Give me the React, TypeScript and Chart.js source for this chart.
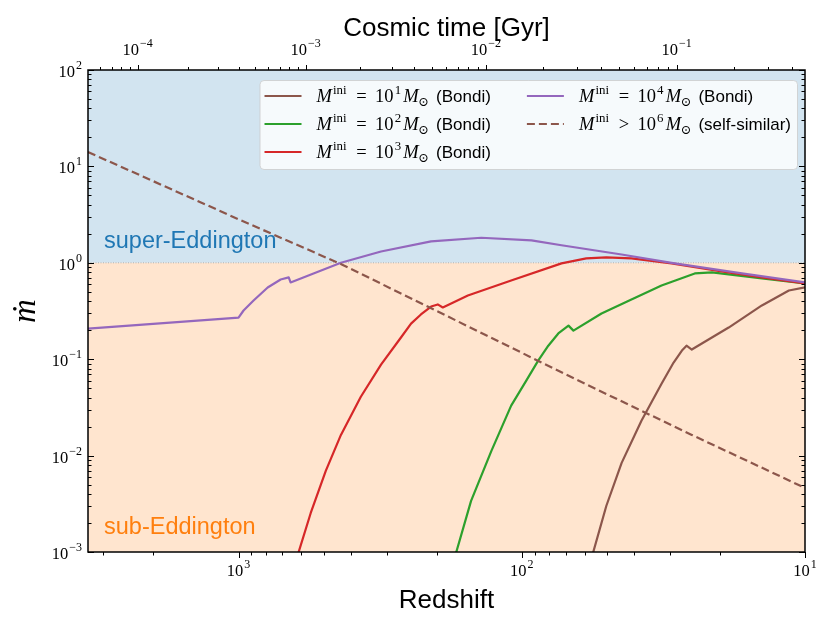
import { useEffect, useRef } from 'react';
import { Chart, registerables } from 'chart.js';

Chart.register(...registerables);

// ---------------- data ----------------
const Z_MIN = 10;
const Z_MAX = 3400;
const MDOT_MIN = 1e-3;
const MDOT_MAX = 1e2;
const EDDINGTON_MDOT = 1;

// M_ini = 10 Msun (Bondi)
const Z_M1 = [56.8, 50.3, 44.4, 37.8, 32.1, 29.1, 27.2, 26.2, 25.1, 18.6, 14.2, 11.4, 10];
const MDOT_M1 = [0.00085, 0.003, 0.00841, 0.023, 0.0557, 0.0923, 0.123, 0.138, 0.126, 0.213, 0.361, 0.516, 0.555];

// M_ini = 100 Msun (Bondi)
const Z_M2 = [173, 151, 128, 109, 96.4, 87.5, 80.6, 74.3, 68.4, 65.7, 52.3, 41.0, 32.1, 24.5, 21.3, 14.2, 10];
const MDOT_M2 = [0.00085, 0.00339, 0.0112, 0.033, 0.06, 0.0967, 0.138, 0.185, 0.223, 0.198, 0.298, 0.417, 0.582, 0.776, 0.795, 0.689, 0.611];

// M_ini = 1000 Msun (Bondi)
const Z_M3 = [624, 556, 492, 435, 370, 314, 267, 246, 227, 209, 198, 190, 155, 109, 72.4, 59.2, 50.3, 41.0, 29.6, 19.7, 14.2, 10];
const MDOT_M3 = [0.00085, 0.00254, 0.00695, 0.0164, 0.0408, 0.0879, 0.168, 0.234, 0.291, 0.352, 0.37, 0.344, 0.458, 0.656, 0.986, 1.11, 1.14, 1.11, 0.986, 0.815, 0.705, 0.611];

// M_ini = 10^4 Msun (Bondi)
const Z_M4 = [3400, 1000, 960, 885, 789, 710, 665, 655, 435, 314, 209, 139, 92.4, 72.4, 44.4, 29.6, 16.7, 10];
const MDOT_M4 = [0.208, 0.27, 0.32, 0.406, 0.555, 0.671, 0.705, 0.625, 1.0, 1.31, 1.67, 1.82, 1.71, 1.52, 1.22, 1.0, 0.776, 0.625];

// M_ini > 10^6 Msun (self-similar)
const Z_SELF = [3400, 1000, 432, 267, 63.1, 25.1, 10];
const MDOT_SELF = [14.1, 2.83, 0.962, 0.481, 0.06, 0.0164, 0.00462];

const LABELS = [
  '$M^{ini} = 10^{1} M_{⊙}$ (Bondi)',
  '$M^{ini} = 10^{2} M_{⊙}$ (Bondi)',
  '$M^{ini} = 10^{3} M_{⊙}$ (Bondi)',
  '$M^{ini} = 10^{4} M_{⊙}$ (Bondi)',
  '$M^{ini} > 10^{6} M_{⊙}$ (self-similar)',
];
const COLORS = ['#8c564b', '#2ca02c', '#d62728', '#9467bd', '#8c564b'];

// top axis: cosmic time ticks (Gyr) and the redshift where each sits
const TOP_TIME_TICKS = [1e-4, 1e-3, 1e-2, 1e-1];
const TOP_TIME_TICK_Z = [2270, 580, 134, 28.4];

const X_TITLE = 'Redshift';
const X2_TITLE = 'Cosmic time [Gyr]';
const Y_TITLE = 'ṁ';
const SUPER_TEXT = 'super-Eddington';
const SUB_TEXT = 'sub-Eddington';

// ---------------- helpers ----------------
const SERIF = '"Liberation Serif", "DejaVu Serif", serif';
const SANS = '"Liberation Sans", "DejaVu Sans", sans-serif';

const SUP: Record<string, string> = {
  '0': '⁰', '1': '¹', '2': '²', '3': '³', '4': '⁴', '5': '⁵', '6': '⁶', '7': '⁷', '8': '⁸', '9': '⁹', '-': '⁻',
};
const UNSUP: Record<string, string> = Object.fromEntries(Object.entries(SUP).map(([k, v]) => [v, k]));

function pow10Label(v: number) {
  const e = Math.round(Math.log10(v));
  return '10' + String(e).split('').map((c) => SUP[c] ?? c).join('');
}

function logTicks(min: number, max: number) {
  const out: any[] = [];
  const e0 = Math.floor(Math.log10(min));
  const e1 = Math.ceil(Math.log10(max));
  for (let e = e0; e <= e1; e++) {
    for (let k = 1; k <= 9; k++) {
      const v = parseFloat((k * Math.pow(10, e)).toPrecision(6));
      if (v >= min * (1 - 1e-9) && v <= max * (1 + 1e-9)) out.push({ value: v, major: k === 1 });
    }
  }
  return out;
}

function zOfTime(t: number) {
  const LT = TOP_TIME_TICKS.map(Math.log10);
  const LZ = TOP_TIME_TICK_Z.map(Math.log10);
  const lt = Math.log10(t);
  let i = 0;
  while (i < LT.length - 2 && lt > LT[i + 1]) i++;
  const lz = LZ[i] + ((lt - LT[i]) * (LZ[i + 1] - LZ[i])) / (LT[i + 1] - LT[i]);
  return Math.pow(10, lz);
}

function topTicks() {
  const out: any[] = [];
  for (let e = -6; e <= 1; e++) {
    for (let k = 1; k <= 9; k++) {
      const t = parseFloat((k * Math.pow(10, e)).toPrecision(6));
      const z = zOfTime(t);
      if (z >= Z_MIN && z <= Z_MAX) out.push({ value: z, major: k === 1, t });
    }
  }
  return out;
}

type Run = { text: string; font: string; dy: number; pre: number; post: number };
function parseRich(s: string, mathSize: number, textSize: number): Run[] {
  const runs: Run[] = [];
  let i = 0;
  let math = false;
  while (i < s.length) {
    const c = s[i];
    if (c === '$') { math = !math; i++; continue; }
    if (!math) {
      let j = i;
      while (j < s.length && s[j] !== '$') j++;
      runs.push({ text: s.slice(i, j), font: `${textSize}px ${SANS}`, dy: 0, pre: 0, post: 0 });
      i = j;
      continue;
    }
    if (c === '^' || c === '_') {
      const close = s.indexOf('}', i);
      const inner = s.slice(i + 2, close);
      const sub = c === '_';
      runs.push({
        text: inner,
        font: `${(mathSize * 0.7).toFixed(1)}px ${SERIF}`,
        dy: sub ? mathSize * 0.2 : -mathSize * 0.42,
        pre: sub ? -mathSize * 0.02 : mathSize * 0.06,
        post: mathSize * 0.12,
      });
      i = close + 1;
      continue;
    }
    if (c === ' ') { i++; continue; }
    if (c === '=' || c === '>') {
      runs.push({ text: c, font: `${mathSize}px ${SERIF}`, dy: 0, pre: mathSize * 0.4, post: mathSize * 0.45 });
      i++;
      continue;
    }
    const italic = /[A-Za-z]/.test(c);
    runs.push({ text: c, font: `${italic ? 'italic ' : ''}${mathSize}px ${SERIF}`, dy: 0, pre: 0, post: 0 });
    i++;
  }
  return runs;
}
function measureRich(ctx: CanvasRenderingContext2D, runs: Run[]) {
  let w = 0;
  for (const r of runs) {
    ctx.font = r.font;
    w += r.pre + ctx.measureText(r.text).width + r.post;
  }
  return w;
}
function drawRich(ctx: CanvasRenderingContext2D, runs: Run[], x: number, y: number) {
  for (const r of runs) {
    ctx.font = r.font;
    x += r.pre;
    ctx.fillText(r.text, x, y + r.dy);
    x += ctx.measureText(r.text).width + r.post;
  }
}

// ---------------- plugins ----------------
const backgroundPlugin = {
  id: 'regions',
  beforeDatasetsDraw(chart: any) {
    const { ctx, chartArea: a, scales } = chart;
    const yE = scales.y.getPixelForValue(EDDINGTON_MDOT);
    ctx.save();
    ctx.fillStyle = 'rgb(210,228,240)';
    ctx.fillRect(a.left, a.top, a.right - a.left, yE - a.top);
    ctx.fillStyle = 'rgb(255,229,207)';
    ctx.fillRect(a.left, yE, a.right - a.left, a.bottom - yE);
    ctx.strokeStyle = 'rgba(140,140,140,0.6)';
    ctx.lineWidth = 1;
    ctx.setLineDash([1, 1.5]);
    ctx.beginPath();
    ctx.moveTo(a.left, yE);
    ctx.lineTo(a.right, yE);
    ctx.stroke();
    ctx.setLineDash([]);
    ctx.font = `23.5px ${SANS}`;
    ctx.textAlign = 'left';
    ctx.textBaseline = 'alphabetic';
    ctx.fillStyle = '#1f77b4';
    ctx.fillText(SUPER_TEXT, a.left + 16, yE - 15);
    ctx.fillStyle = '#ff7f0e';
    ctx.fillText(SUB_TEXT, a.left + 16, a.bottom - 18);
    ctx.restore();
  },
};

const frameTicksPlugin = {
  id: 'frameTicks',
  afterDatasetsDraw(chart: any) {
    const { ctx, chartArea: a, scales } = chart;
    ctx.save();
    ctx.strokeStyle = '#000';
    ctx.lineWidth = 1;
    const seg = (x1: number, y1: number, x2: number, y2: number) => {
      ctx.beginPath();
      ctx.moveTo(x1, y1);
      ctx.lineTo(x2, y2);
      ctx.stroke();
    };
    for (const t of scales.y.ticks) {
      const p = Math.round(scales.y.getPixelForValue(t.value)) + 0.5;
      const len = t.major ? 6 : 3.5;
      seg(a.left, p, a.left + len, p);
      seg(a.right, p, a.right - len, p);
    }
    for (const t of scales.x.ticks) {
      const p = Math.round(scales.x.getPixelForValue(t.value)) + 0.5;
      const len = t.major ? 6 : 3.5;
      seg(p, a.bottom, p, a.bottom + len);
    }
    for (const t of scales.x2.ticks) {
      const p = Math.round(scales.x2.getPixelForValue(t.value)) + 0.5;
      const len = t.major ? 5 : 3;
      seg(p, a.top, p, a.top - len);
    }
    ctx.lineWidth = 1.5;
    ctx.strokeRect(a.left, a.top, a.right - a.left, a.bottom - a.top);
    ctx.restore();
  },
};

// draws the axis tick labels (generated by the Chart.js scales) as 10 with a raised exponent
const tickLabelPlugin = {
  id: 'powerTickLabels',
  afterDraw(chart: any) {
    const { ctx, chartArea: a, scales } = chart;
    const baseFont = `16.5px ${SERIF}`;
    const expFont = `12px ${SERIF}`;
    ctx.save();
    ctx.fillStyle = '#000';
    ctx.textAlign = 'left';
    ctx.textBaseline = 'alphabetic';
    for (const id of ['x', 'x2', 'y']) {
      const s = scales[id];
      for (const t of s.ticks) {
        const label: string = typeof t.label === 'string' ? t.label : '';
        if (!label) continue;
        const base = label.slice(0, 2);
        const exp = label
          .slice(2)
          .split('')
          .map((c) => UNSUP[c] ?? c)
          .join('')
          .replace('-', '\u2212');
        ctx.font = baseFont;
        const wb = ctx.measureText(base).width;
        ctx.font = expFont;
        const we = ctx.measureText(exp).width;
        const W = wb + 1 + we;
        const p = s.getPixelForValue(t.value);
        let x0: number;
        let yb: number;
        if (id === 'y') {
          x0 = a.left - 6 - W;
          yb = p + 7;
        } else if (id === 'x') {
          x0 = p - W / 2;
          yb = a.bottom + 24;
        } else {
          x0 = p - W / 2;
          yb = a.top - 15;
        }
        ctx.font = baseFont;
        ctx.fillText(base, x0, yb);
        ctx.font = expFont;
        ctx.fillText(exp, x0 + wb + 1, yb - 8);
      }
    }
    ctx.restore();
  },
};

const legendPlugin = {
  id: 'mathLegend',
  afterDatasetsDraw(chart: any) {
    const { ctx, chartArea: a } = chart;
    const ds = chart.data.datasets;
    const rows = 3;
    const mathSize = 18.5;
    const textSize = 17;
    const handleLen = 37;
    const handleGap = 15;
    const colGap = 36;
    const padL = 5;
    const padR = 6;
    const rowH = 28;
    const firstRow = 16;
    const runs = ds.map((d: any) => parseRich(d.label, mathSize, textSize));
    const widths = runs.map((r: Run[]) => measureRich(ctx, r));
    const cols = Math.ceil(ds.length / rows);
    const colW: number[] = [];
    for (let c = 0; c < cols; c++) {
      let m = 0;
      for (let r = 0; r < rows; r++) {
        const idx = c * rows + r;
        if (idx < ds.length) m = Math.max(m, widths[idx]);
      }
      colW.push(handleLen + handleGap + m);
    }
    const boxW = padL + colW.reduce((s, v) => s + v, 0) + colGap * (cols - 1) + padR;
    const boxH = firstRow + (rows - 1) * rowH + 17;
    const right = a.right - 8;
    const top = a.top + 10;
    const left = right - boxW;
    ctx.save();
    ctx.beginPath();
    (ctx as any).roundRect(left + 0.5, top + 0.5, boxW, boxH, 4);
    ctx.fillStyle = 'rgba(255,255,255,0.8)';
    ctx.fill();
    ctx.strokeStyle = 'rgba(204,204,204,0.8)';
    ctx.lineWidth = 1;
    ctx.stroke();
    ctx.textAlign = 'left';
    ctx.textBaseline = 'alphabetic';
    ds.forEach((d: any, idx: number) => {
      const c = Math.floor(idx / rows);
      const r = idx % rows;
      let x0 = left + padL;
      for (let k = 0; k < c; k++) x0 += colW[k] + colGap;
      const yc = top + firstRow + r * rowH;
      ctx.strokeStyle = d.borderColor;
      ctx.lineWidth = d.borderWidth;
      ctx.setLineDash(d.borderDash || []);
      ctx.beginPath();
      ctx.moveTo(x0, yc);
      ctx.lineTo(x0 + handleLen, yc);
      ctx.stroke();
      ctx.setLineDash([]);
      ctx.fillStyle = '#000';
      drawRich(ctx, runs[idx], x0 + handleLen + handleGap, yc + 6);
    });
    ctx.restore();
  },
};

// ---------------- chart ----------------
function series(label: string, zs: number[], ms: number[], color: string, order: number, dash: number[] = []) {
  return {
    label,
    data: zs.map((z, i) => ({ x: z, y: ms[i] })),
    borderColor: color,
    backgroundColor: color,
    borderWidth: 2.2,
    borderDash: dash,
    borderJoinStyle: 'round' as const,
    pointRadius: 0,
    tension: 0,
    fill: false,
    order,
    clip: 0,
  };
}

const tickFont = { family: 'Liberation Serif', size: 16 };
const HIDDEN = 'rgba(0,0,0,0)';

export default function App() {
  const ref = useRef<HTMLCanvasElement>(null);
  useEffect(() => {
    if (!ref.current) return;
    const chart = new Chart(ref.current, {
      type: 'line',
      data: {
        datasets: [
          series(LABELS[0], Z_M1, MDOT_M1, COLORS[0], 4),
          series(LABELS[1], Z_M2, MDOT_M2, COLORS[1], 3),
          series(LABELS[2], Z_M3, MDOT_M3, COLORS[2], 2),
          series(LABELS[3], Z_M4, MDOT_M4, COLORS[3], 1),
          series(LABELS[4], Z_SELF, MDOT_SELF, COLORS[4], 0, [8, 4]),
        ],
      },
      options: {
        responsive: false,
        animation: false,
        devicePixelRatio: 1,
        layout: { padding: { left: 0, right: 26, top: 0, bottom: 0 } },
        plugins: { legend: { display: false }, tooltip: { enabled: false } },
        events: [],
        scales: {
          x: {
            type: 'logarithmic',
            position: 'bottom',
            min: Z_MIN,
            max: Z_MAX,
            reverse: true,
            grid: { display: false },
            border: { display: false },
            afterBuildTicks: (s: any) => { s.ticks = logTicks(Z_MIN, Z_MAX); },
            afterFit: (s: any) => { s.height = 75; },
            ticks: {
              autoSkip: false, maxRotation: 0, minRotation: 0, padding: 6, color: HIDDEN, font: tickFont,
              callback: (v: any, i: number, t: any[]) => (t[i].major ? pow10Label(v) : ''),
            },
            title: { display: true, text: X_TITLE, color: '#000', font: { family: 'Liberation Sans', size: 26 }, padding: { top: 0, bottom: 11 } },
          },
          x2: {
            type: 'logarithmic',
            position: 'top',
            min: Z_MIN,
            max: Z_MAX,
            reverse: true,
            grid: { display: false },
            border: { display: false },
            afterBuildTicks: (s: any) => { s.ticks = topTicks(); },
            afterFit: (s: any) => { s.height = 70; },
            ticks: {
              autoSkip: false, maxRotation: 0, minRotation: 0, padding: 11, color: HIDDEN, font: tickFont,
              callback: (_v: any, i: number, t: any[]) => (t[i].major ? pow10Label(t[i].t) : ''),
            },
            title: { display: true, text: X2_TITLE, color: '#000', font: { family: 'Liberation Sans', size: 26 }, padding: { top: 13, bottom: 0 } },
          },
          y: {
            type: 'logarithmic',
            position: 'left',
            min: MDOT_MIN,
            max: MDOT_MAX,
            grid: { display: false },
            border: { display: false },
            afterBuildTicks: (s: any) => { s.ticks = logTicks(MDOT_MIN, MDOT_MAX); },
            afterFit: (s: any) => { s.width = 88; },
            ticks: {
              autoSkip: false, padding: 5, color: HIDDEN, font: tickFont,
              callback: (v: any, i: number, t: any[]) => (t[i].major ? pow10Label(v) : ''),
            },
            title: { display: true, text: Y_TITLE, color: '#000', font: { family: 'Liberation Serif', size: 33, style: 'italic' }, padding: { top: 7, bottom: 0 } },
          },
        },
      } as any,
      plugins: [backgroundPlugin, frameTicksPlugin, legendPlugin, tickLabelPlugin],
    });
    return () => chart.destroy();
  }, []);
  return (
    <div style={{ position: 'fixed', left: 0, top: 0, width: 831, height: 627, background: '#fff' }}>
      <canvas ref={ref} width={831} height={627} style={{ width: 831, height: 627, display: 'block' }} />
    </div>
  );
}
